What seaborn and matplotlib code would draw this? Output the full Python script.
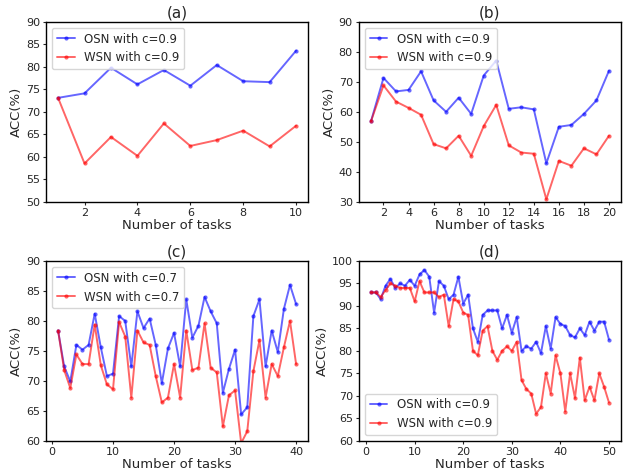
import matplotlib
matplotlib.use("Agg")
import matplotlib.pyplot as plt
import pandas as pd
import seaborn as sns
import numpy as np

# panel (a)
a_osn = [73.1, 74.1, 79.8, 76.1, 79.3, 75.8, 80.4, 76.8, 76.6, 83.6]
a_wsn = [73.1, 58.5, 64.4, 60.2, 67.4, 62.4, 63.7, 65.8, 62.3, 66.9]

# panel (b)
b_osn = [56.8, 71.3, 66.8, 67.3, 73.5, 63.8, 60.0, 64.7, 59.3, 72.1,
         77.1, 61.0, 61.5, 60.8, 42.8, 55.0, 55.6, 59.3, 63.8, 73.7]
b_wsn = [56.8, 68.8, 63.4, 61.3, 59.0, 49.2, 47.8, 52.0, 45.3, 55.2,
         62.3, 48.8, 46.4, 46.0, 30.8, 43.6, 42.0, 47.8, 45.8, 52.0]

# panel (c)
c_osn = [78.4, 72.4, 69.9, 76.0, 75.2, 76.0, 81.2, 75.6, 70.8, 71.2,
         80.8, 80.0, 72.4, 81.6, 78.8, 80.4, 76.0, 69.6, 75.4, 78.0,
         72.4, 83.6, 77.2, 79.2, 84.0, 81.6, 79.6, 68.0, 72.0, 75.2,
         64.4, 65.6, 80.8, 83.6, 72.4, 78.4, 74.8, 82.0, 86.0, 82.8]
c_wsn = [78.4, 71.8, 68.8, 74.4, 72.8, 72.8, 79.4, 72.6, 69.4, 68.6,
         79.8, 77.4, 67.2, 78.4, 76.4, 76.0, 70.8, 66.4, 67.2, 72.8,
         67.2, 78.4, 71.8, 72.2, 79.6, 72.2, 71.4, 62.4, 67.6, 68.4,
         59.6, 61.6, 71.6, 76.8, 67.2, 72.8, 70.8, 75.6, 80.0, 72.8]

# panel (d)
d_osn = [93.0, 93.0, 91.5, 94.5, 96.0, 94.0, 95.0, 94.5, 95.8, 94.5,
         97.0, 98.0, 96.5, 88.5, 95.5, 94.5, 91.5, 92.5, 96.5, 90.5,
         92.5, 85.0, 82.0, 88.0, 89.0, 89.0, 89.0, 85.0, 88.0, 84.0,
         87.5, 80.0, 81.0, 80.5, 82.0, 79.5, 85.5, 80.5, 87.5, 86.0,
         85.5, 83.5, 83.0, 85.0, 83.5, 86.5, 84.5, 86.5, 86.5, 82.5]
d_wsn = [93.0, 93.0, 92.0, 93.5, 95.0, 94.5, 94.0, 94.0, 94.0, 91.0,
         95.5, 93.0, 93.0, 93.0, 92.0, 92.5, 85.5, 91.5, 91.0, 88.5,
         88.0, 80.0, 79.0, 84.5, 85.5, 80.0, 78.0, 80.0, 81.0, 80.0,
         82.0, 73.5, 71.5, 70.5, 66.0, 67.5, 75.0, 70.5, 79.0, 75.0,
         66.5, 75.0, 69.5, 78.5, 69.0, 72.0, 69.0, 75.0, 72.0, 68.5]

panels = [
    ("(a)", a_osn, a_wsn, "0.9", (50, 90), np.arange(50, 91, 5), np.arange(2, 11, 2), "upper left"),
    ("(b)", b_osn, b_wsn, "0.9", (30, 90), np.arange(30, 91, 10), np.arange(2, 21, 2), "upper left"),
    ("(c)", c_osn, c_wsn, "0.7", (60, 90), np.arange(60, 91, 5), np.arange(0, 41, 10), "upper left"),
    ("(d)", d_osn, d_wsn, "0.9", (60, 100), np.arange(60, 101, 5), np.arange(0, 51, 10), "lower left"),
]

sns.set_style("ticks")
plt.rcParams['font.family'] = ['DejaVu Sans']
plt.rcParams['axes.edgecolor'] = 'black'
plt.rcParams['axes.linewidth'] = 1.0

fig, axes = plt.subplots(2, 2, figsize=(6.24, 4.76), dpi=100)
plt.subplots_adjust(left=0.074, right=0.995, top=0.954, bottom=0.074, wspace=0.195, hspace=0.33)

for ax, (title, osn, wsn, c, ylim, yticks, xticks, loc) in zip(axes.flat, panels):
    n = len(osn)
    tasks = np.arange(1, n + 1)
    df = pd.DataFrame({
        'task': np.concatenate([tasks, tasks]),
        'acc': osn + wsn,
        'method': [f'OSN with c={c}'] * n + [f'WSN with c={c}'] * n,
    })
    sns.lineplot(data=df, x='task', y='acc', hue='method', palette=['blue', 'red'],
                 marker='o', markersize=3, markeredgewidth=0, linewidth=1.4,
                 alpha=0.6, ax=ax)
    ax.set_ylim(*ylim)
    ax.set_yticks(yticks)
    ax.set_xticks(xticks)
    ax.set_title(title, fontsize=11, pad=3)
    ax.set_xlabel('Number of tasks', fontsize=9.5, labelpad=1)
    ax.set_ylabel('ACC(%)', fontsize=9.5, labelpad=2)
    ax.tick_params(labelsize=8, length=2.5, pad=2)
    ax.legend(loc=loc, fontsize=8.5, title=None, handlelength=1.5)

plt.savefig('out.png', dpi=100)
